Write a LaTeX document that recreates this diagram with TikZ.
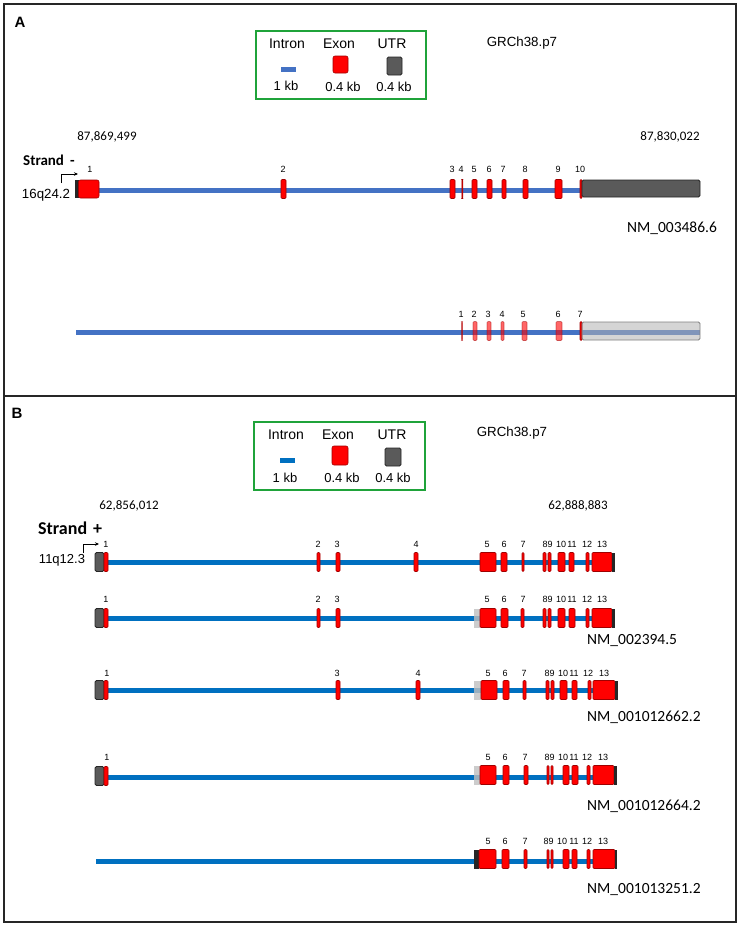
\documentclass[tikz,border=0pt]{standalone}
\usepackage{fontspec}
\setmainfont{Liberation Sans}
\newfontfamily\calfont{Carlito}
\usetikzlibrary{arrows.meta}
\definecolor{exred}{HTML}{FF0000}
\definecolor{exdark}{HTML}{A00000}
\definecolor{utrgrey}{HTML}{5A5A5A}
\definecolor{utrdark}{HTML}{262626}
\definecolor{intA}{HTML}{4472C4}
\definecolor{intB}{HTML}{0070C0}
\definecolor{legend}{HTML}{1FA33A}
\newcommand\myex[3]{\draw[exonst] (#1,#3-9.5) rectangle (#2,#3+9.5);}
\newcommand\myexT[3]{\draw[exonT] (#1,#3-9.5) rectangle (#2,#3+9.5);}
\newcommand\myutr[3]{\draw[utrst] (#1,#3-9.5) rectangle (#2,#3+9.5);}
\newcommand\myend[3]{\fill[utrdark] (#1,#3-9.5) rectangle (#2,#3+9.5);}
\newcommand\mylg[3]{\fill[lgrey] (#1,#3-9.5) rectangle (#2,#3+9.5);}
\tikzset{
  num/.style={font=\fontsize{9}{9}\selectfont, inner sep=0},
  coordtxt/.style={font=\calfont\fontsize{13}{13}\selectfont, inner sep=0},
  nmtxt/.style={font=\calfont\fontsize{15.5}{15.5}\selectfont, inner sep=0},
  legtxt/.style={font=\fontsize{14}{14}\selectfont, inner sep=0},
  kbtxt/.style={font=\fontsize{13}{13}\selectfont, inner sep=0},
  exonst/.style={fill=exred, draw=exdark, line width=0.6pt, rounded corners=1pt},
  exonT/.style={fill=exred, fill opacity=0.6, draw=exdark, draw opacity=0.5, line width=0.6pt, rounded corners=1pt},
  utrst/.style={fill=utrgrey, draw=utrdark, line width=0.8pt, rounded corners=1.5pt},
  lgrey/.style={fill=black!25, fill opacity=0.8},
  intronA/.style={line width=5pt, draw=intA},
  intronB/.style={line width=5pt, draw=intB},
  frame/.style={line width=1.5pt, draw=black!85},
}
\begin{document}
\begin{tikzpicture}[x=1pt,y=-1pt]
\useasboundingbox (0,0) rectangle (743,926);
% frames
\draw[frame] (4,4) rectangle (736,922);
\draw[frame] (4,396) -- (736,396);

% ================= Panel A =================
\node[font=\bfseries\fontsize{15}{15}\selectfont, inner sep=0] (labA) at (20,22) {A};
\draw[legend, line width=1.6pt] (256,31) rectangle (426,99);
\node[legtxt] (lgAi) at (287,44) {Intron};
\node[legtxt] (lgAe) at (339,44) {Exon};
\node[legtxt] (lgAu) at (392,44) {UTR};
\draw[intronA] (281,69) -- (296,69);
\draw[exonst, rounded corners=2pt] (333,56) rectangle (348,73);
\draw[utrst] (387,57) rectangle (402,75);
\node[kbtxt] (kbA1) at (286,86) {1 kb};
\node[kbtxt] (kbA2) at (343,87) {0.4 kb};
\node[kbtxt] (kbA3) at (394,87) {0.4 kb};
\node[font=\fontsize{13.3}{13.3}\selectfont, inner sep=0] (grA) at (522,43) {GRCh38.p7};
\node[coordtxt] (cA1) at (107,137) {87,869,499};
\node[coordtxt] (cA2) at (670,137) {87,830,022};
\node[font=\calfont\bfseries\fontsize{15}{15}\selectfont, inner sep=0, anchor=west] (stA) at (23,160) {Strand\hspace{6pt}-};
\node[font=\fontsize{13.3}{13.3}\selectfont, inner sep=0] (chA) at (46,195) {16q24.2};
\coordinate (arA0) at (61,183);
\coordinate (arA1) at (78,174);
\draw[line width=0.8pt, -{Stealth[length=4pt,width=3.5pt]}] (arA0) |- (arA1);

% track A1
\draw[intronA] (97,190) -- (582,190);
\fill[utrdark] (75,180) rectangle (78.5,198);
\draw[exonst, rounded corners=2pt] (78.5,180) rectangle (99,198);
\myex{281}{286}{189}
\myex{450}{455}{189}
\myex{461.8}{462.8}{189}
\myex{472}{477}{189}
\myex{487}{492}{189}
\myex{502}{506}{189}
\myex{523}{528}{189}
\myex{555}{562}{189}
\myex{580}{582}{189}
\draw[utrst] (582,180) rectangle (700,197);
\foreach \x/\t in {90/1,283/2,452/3,461/4,474/5,489/6,503/7,525/8,558/9,580/10}
  \node[num] (nA\t) at (\x,169) {\t};
\node[nmtxt] (nmA) at (672,228) {NM\_003486.6};

% track A2
\draw[intronA] (76,332) -- (700,332);
\myexT{461.5}{462.5}{331}
\myexT{473}{477}{331}
\myexT{487}{491}{331}
\myexT{501}{504}{331}
\myexT{522}{527}{331}
\myexT{556}{562}{331}
\myex{580}{582}{331}
\draw[fill=black!30, fill opacity=0.55, draw=black!50, line width=0.8pt, rounded corners=1.5pt] (582,322) rectangle (700,340);
\foreach \x/\t in {461/1,474/2,488/3,502/4,523/5,558/6,580/7}
  \node[num] (nB\t) at (\x,314) {\t};

% ================= Panel B =================
\node[font=\bfseries\fontsize{15}{15}\selectfont, inner sep=0] (labB) at (17,413) {B};
\draw[legend, line width=1.6pt] (254,422) rectangle (425,490);
\node[legtxt] (lgBi) at (286,435) {Intron};
\node[legtxt] (lgBe) at (338,435) {Exon};
\node[legtxt] (lgBu) at (392,435) {UTR};
\draw[intronB] (280,460) -- (295,460);
\draw[exonst, rounded corners=2pt] (332,446) rectangle (348,465);
\draw[utrst] (385,448) rectangle (401,466);
\node[kbtxt] (kbB1) at (285,478) {1 kb};
\node[kbtxt] (kbB2) at (342,478) {0.4 kb};
\node[kbtxt] (kbB3) at (393,478) {0.4 kb};
\node[font=\fontsize{13.3}{13.3}\selectfont, inner sep=0] (grB) at (512,433) {GRCh38.p7};
\node[coordtxt] (cB1) at (129,506) {62,856,012};
\node[coordtxt] (cB2) at (578,506) {62,888,883};
\node[font=\calfont\bfseries\fontsize{18}{18}\selectfont, inner sep=0, anchor=west] (stB) at (38,528) {Strand\hspace{6pt}+};
\node[font=\fontsize{13}{13}\selectfont, inner sep=0] (chB) at (62,560) {11q12.3};
\coordinate (arB0) at (83,553);
\coordinate (arB1) at (99,544);
\draw[line width=0.8pt, -{Stealth[length=4pt,width=3.5pt]}] (arB0) |- (arB1);

% track B1 (y 562)
\draw[intronB] (104,562) -- (612,562);
\myutr{95}{104}{562}
\myex{104}{108}{562}
\myex{317}{320}{562}
\myex{336}{340}{562}
\myex{414}{418}{562}
\myex{480}{496}{562}
\myex{501}{507}{562}
\myex{522}{524}{562}
\myex{543}{546}{562}
\myex{548}{551}{562}
\myex{558}{565}{562}
\myex{569}{574}{562}
\myex{586}{589}{562}
\myex{592}{612}{562}
\myend{612}{615}{562}
\foreach \x/\t in {106/1,318/2,337/3,416/4,487/5,504/6,523/7,545/8,550/9,561/10,572/11,587/12,602/13}
  \node[num] (nC\t) at (\x,544) {\t};

% track B2 (y 618)
\draw[intronB] (104,618) -- (612,618);
\myutr{95}{104}{618}
\myex{104}{108}{618}
\myex{317}{320}{618}
\myex{336}{340}{618}
\mylg{474}{480}{618}
\myex{480}{496}{618}
\myex{501}{508}{618}
\myex{521}{524}{618}
\myex{543}{546}{618}
\myex{548}{551}{618}
\myex{558}{565}{618}
\myex{569}{575}{618}
\myex{586}{589}{618}
\myex{592}{612}{618}
\myend{612}{615}{618}
\foreach \x/\t in {106/1,318/2,337/3,487/5,504/6,523/7,545/8,550/9,561/10,572/11,587/12,602/13}
  \node[num] (nD\t) at (\x,599) {\t};
\node[nmtxt, anchor=west] (nmB2) at (587,641) {NM\_002394.5};

% track B3 (y 690)
\draw[intronB] (104,690) -- (615,690);
\myutr{95}{104}{690}
\myex{104}{108}{690}
\myex{336}{340}{690}
\myex{416}{420}{690}
\mylg{474}{481}{690}
\myex{481}{497}{690}
\myex{503}{509}{690}
\myex{523}{526}{690}
\myex{546}{549}{690}
\myex{551}{554}{690}
\myex{560}{567}{690}
\myex{572}{577}{690}
\myex{588}{591}{690}
\myex{593}{615}{690}
\myend{615}{618}{690}
\foreach \x/\t in {107/1,337/3,418/4,488/5,505/6,524/7,547/8,552/9,563/10,574/11,588/12,604/13}
  \node[num] (nE\t) at (\x,673) {\t};
\node[nmtxt, anchor=west] (nmB3) at (587,717) {NM\_001012662.2};

% track B4 (y 777)
\draw[intronB] (104,777) -- (614,777);
\myutr{95}{104}{776}
\myex{104}{108}{776}
\mylg{474}{480}{775}
\myex{480}{496}{775}
\myex{503}{509}{775}
\myex{524}{528}{775}
\myex{547}{549}{775}
\myex{551}{553}{775}
\myex{563}{569}{775}
\myex{572}{578}{775}
\myex{587}{590}{775}
\myex{593}{614}{775}
\myend{614}{617}{775}
\foreach \x/\t in {107/1,488/5,505/6,525/7,547/8,552/9,563/10,574/11,587/12,603/13}
  \node[num] (nF\t) at (\x,757) {\t};
\node[nmtxt, anchor=west] (nmB4) at (587,806) {NM\_001012664.2};

% track B5 (y 860)
\draw[intronB] (96,861) -- (615,861);
\myend{474}{479}{859}
\myex{479}{496}{859}
\myex{502}{509}{859}
\myex{524}{527}{859}
\myex{547}{549}{859}
\myex{551}{553}{859}
\myex{563}{569}{859}
\myex{572}{577}{859}
\myex{587}{590}{859}
\myex{593}{615}{859}
\myend{615}{617}{859}
\foreach \x/\t in {488/5,505/6,525/7,546/8,551/9,562/10,574/11,587/12,603/13}
  \node[num] (nG\t) at (\x,841) {\t};
\node[nmtxt, anchor=west] (nmB5) at (587,889) {NM\_001013251.2};
\end{tikzpicture}
\end{document}
